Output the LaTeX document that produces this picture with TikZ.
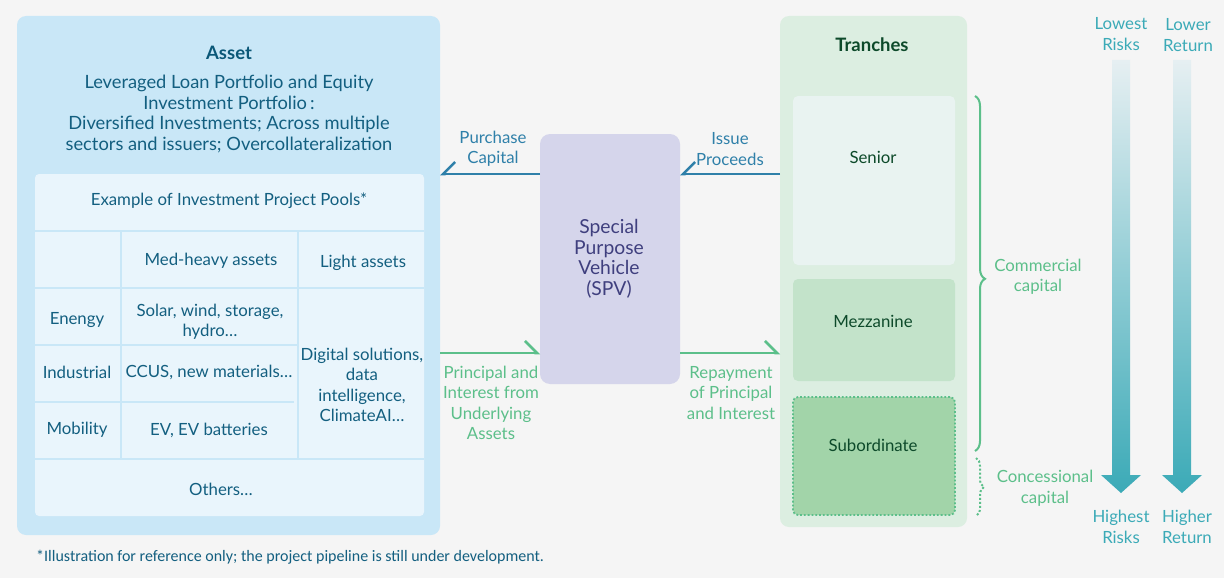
\documentclass[tikz,border=0pt]{standalone}
\usepackage{fontspec}
\setmainfont{Lato}
\newfontfamily\notefont{Carlito}
\usetikzlibrary{arrows.meta,decorations.pathreplacing,calc}
\definecolor{bg}{HTML}{F5F5F5}
\definecolor{assetfill}{HTML}{C9E7F7}
\definecolor{cellfill}{HTML}{E9F5FC}
\definecolor{assettext}{HTML}{135F80}
\definecolor{assettitle}{HTML}{0B5878}
\definecolor{arrblue}{HTML}{2F80A9}
\definecolor{spvfill}{HTML}{D5D5EB}
\definecolor{spvtext}{HTML}{3F3F7E}
\definecolor{arrgreen}{HTML}{5CBF8A}
\definecolor{trfill}{HTML}{DCEEE1}
\definecolor{senfill}{HTML}{E9F3F1}
\definecolor{mezfill}{HTML}{C3E3CA}
\definecolor{subfill}{HTML}{A2D4A9}
\definecolor{trtext}{HTML}{0D4A2A}
\definecolor{teal}{HTML}{3BAAB7}
\definecolor{teallight}{HTML}{E6EFF2}
\tikzset{
  box/.style={inner sep=0pt, outer sep=0pt, anchor=north west, rounded corners=9pt},
  txt/.style={inner sep=0pt, align=center, font=\fontsize{16.8}{20.5}\selectfont},
  atxt/.style={txt, text=assettext},
  grid/.style={draw=assetfill, line width=2.5pt},
  bluearr/.style={draw=arrblue, line width=2.5pt, -{Straight Barb[right,length=12pt,width=24pt,line width=2.5pt]}},
  greenarr/.style={draw=arrgreen, line width=2.5pt, -{Straight Barb[left,length=12pt,width=24pt,line width=2.5pt]}},
  gtxt/.style={txt, text=arrgreen},
  btxt/.style={txt, text=arrblue},
  ttxt/.style={txt, text=teal},
  trt/.style={txt, text=trtext},
  titlefont/.style={font=\fontsize{18.5}{20.5}\selectfont\bfseries},
}
\begin{document}
\begin{tikzpicture}[x=1pt,y=-1pt]
\useasboundingbox[fill=bg] (0,0) rectangle (1224,578);

% Asset panel
\node[box, fill=assetfill, minimum width=423pt, minimum height=519pt] (asset) at (17,16) {};
\node[txt, text=assettitle, titlefont] (assettitle) at (229,53) {Asset};
\node[atxt, font=\fontsize{18.3}{20.4}\selectfont] (assetdesc) at (229,114) {Leveraged Loan Portfolio and Equity\\Investment Portfolio\,:\\Diversified Investments; Across multiple\\sectors and issuers; Overcollateralization};

% table
\node[box, fill=cellfill, rounded corners=4pt, minimum width=389pt, minimum height=342pt] (table) at (35,174) {};
\draw[grid] (35,231) -- (424,231);
\draw[grid] (35,288) -- (424,288);
\draw[grid] (35,345) -- (298,345);
\draw[grid] (35,402) -- (294,402);
\draw[grid] (35,459) -- (424,459);
\draw[grid] (121,231) -- (121,459);
\draw[grid] (298,231) -- (298,459);

\node[atxt] (hdr) at (229,201) {Example of Investment Project Pools*};
\node[atxt] (medheavy) at (211,261) {Med-heavy assets};
\node[atxt] (light) at (363,263) {Light assets};
\node[atxt] (energy) at (77,320) {Enengy};
\node[atxt] (solar) at (210,322) {Solar, wind, storage,\\hydro…};
\node[atxt] (industrial) at (77,372) {Industrial};
\node[atxt] (ccus) at (209,372) {CCUS, new materials…};
\node[atxt] (mobility) at (77,430) {Mobility};
\node[atxt] (ev) at (209,430) {EV, EV batteries};
\node[atxt] (digital) at (362,385) {Digital solutions,\\data\\intelligence,\\ClimateAI…};
\node[atxt] (others) at (221,489) {Others…};

\node[inner sep=0pt, anchor=west, text=assettext, font=\notefont\fontsize{16}{18}\selectfont] (note) at (36,557) {*Illustration for reference only; the project pipeline is still under development.};

% SPV
\node[box, fill=spvfill, minimum width=140pt, minimum height=250pt, rounded corners=10pt] (spv) at (540,134) {};
\node[txt, text=spvtext, font=\fontsize{19.3}{20.6}\selectfont] (spvtext) at (609,259) {Special\\Purpose\\Vehicle\\(SPV)};

% Tranches
\node[box, fill=trfill, minimum width=187pt, minimum height=511pt] (tr) at (780,16) {};
\node[trt, titlefont] (trtitle) at (872,45) {Tranches};
\node[box, fill=senfill, rounded corners=5pt, minimum width=162pt, minimum height=169pt] (senior) at (793,96) {};
\node[box, fill=mezfill, rounded corners=5pt, minimum width=162pt, minimum height=102pt] (mezz) at (793,279) {};
\node[box, fill=subfill, draw=arrgreen, dotted, line width=1.8pt, rounded corners=5pt, minimum width=162pt, minimum height=118pt] (sub) at (793,397) {};
\node[trt] (sentxt) at (873,157) {Senior};
\node[trt] (meztxt) at (873,321) {Mezzanine};
\node[trt] (subtxt) at (873,445) {Subordinate};

% connectors
\coordinate (yt) at (0,174);
\coordinate (yb) at (0,353);
\draw[bluearr] (spv.west |- yt) -- (asset.east |- yt);
\draw[bluearr] (tr.west |- yt) -- (spv.east |- yt);
\draw[greenarr] (asset.east |- yb) -- (spv.west |- yb);
\draw[greenarr] (spv.east |- yb) -- (tr.west |- yb);

\node[btxt] (purchase) at (493,149) {Purchase\\Capital};
\node[btxt] (issue) at (730,149) {Issue\\Proceeds};
\node[gtxt] (pifrom) at (491,403) {Principal and\\Interest from\\Underlying\\Assets};
\node[gtxt] (repay) at (731,393) {Repayment\\of Principal\\and Interest};

% braces
\coordinate (b1) at (975,96);
\coordinate (b2) at (975,451);
\coordinate (b3) at (976,458);
\coordinate (b4) at (976,516);
\draw[arrgreen, line width=2pt, decorate, decoration={brace, amplitude=10pt, aspect=0.515}] (b1) -- (b2);
\draw[arrgreen, line width=2pt, dotted, decorate, decoration={brace, amplitude=8pt}] (b3) -- (b4);
\node[gtxt] (commercial) at (1038,277) {Commercial\\capital};
\node[gtxt] (concessional) at (1045,488) {Concessional\\capital};

% risk / return arrows
\shade[top color=teallight, bottom color=teal]
  (1112,60) -- (1130,60) -- (1130,475) -- (1141,475) -- (1121,493) -- (1101,475) -- (1112,475) -- cycle;
\shade[top color=teallight, bottom color=teal]
  (1173,60) -- (1191,60) -- (1191,475) -- (1202,475) -- (1182,493) -- (1162,475) -- (1173,475) -- cycle;
\node[ttxt] (lowrisk) at (1121,34) {Lowest\\Risks};
\node[ttxt] (lowret) at (1188,35) {Lower\\Return};
\node[ttxt] (highrisk) at (1121,527) {Highest\\Risks};
\node[ttxt] (highret) at (1187,527) {Higher\\Return};
\end{tikzpicture}
\end{document}
